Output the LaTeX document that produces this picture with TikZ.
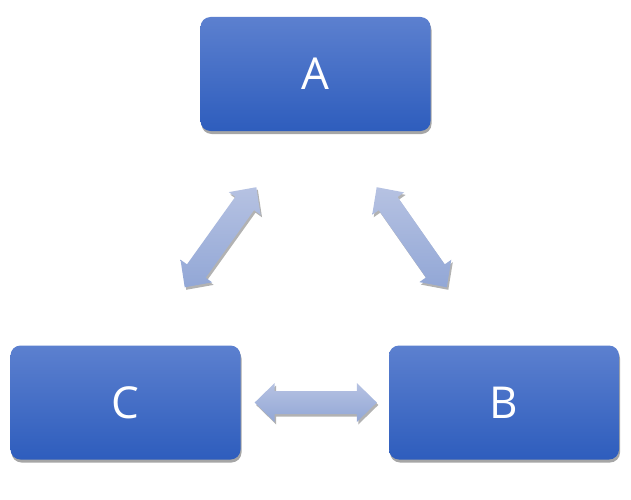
\documentclass[tikz,border=0pt]{standalone}
\usepackage{fontspec}
\setmainfont{Open Sans}
\usetikzlibrary{calc,shadows}
\definecolor{boxtop}{RGB}{92,128,207}
\definecolor{boxbot}{RGB}{46,93,189}
\definecolor{arrtop}{RGB}{182,194,226}
\definecolor{arrbot}{RGB}{146,167,214}
\tikzset{
  box/.style={rectangle, rounded corners=10pt, minimum width=230pt, minimum height=114pt,
    top color=boxtop, bottom color=boxbot, draw=none, text=white,
    font=\fontsize{44}{50}\selectfont,
    drop shadow={shadow xshift=1pt, shadow yshift=-3pt, opacity=0.35, fill=black}},
  blockarr/.style={top color=arrtop, bottom color=arrbot, draw=none,
    drop shadow={shadow xshift=1.5pt, shadow yshift=-2.5pt, opacity=0.3, fill=black}}
}
\newcommand\blockarrow[2]{%
  \path[blockarr] (#1)
    -- ($(#1)!20pt!(#2)!19.5pt!90:(#2)$)
    -- ($(#1)!20pt!(#2)!11.5pt!90:(#2)$)
    -- ($(#2)!20pt!(#1)!11.5pt!-90:(#1)$)
    -- ($(#2)!20pt!(#1)!19.5pt!-90:(#1)$)
    -- (#2)
    -- ($(#2)!20pt!(#1)!19.5pt!90:(#1)$)
    -- ($(#2)!20pt!(#1)!11.5pt!90:(#1)$)
    -- ($(#1)!20pt!(#2)!11.5pt!-90:(#2)$)
    -- ($(#1)!20pt!(#2)!19.5pt!-90:(#2)$)
    -- cycle;}
\begin{document}
\begin{tikzpicture}[x=1pt,y=1pt]
\useasboundingbox (0,0) rectangle (631,499);
\node[box] (A) at (315.5,425) {A};
\node[box] (C) at (125.5,96.5) {C};
\node[box] (B) at (504,96.5) {B};
% connector end points
\coordinate (ac1) at ($(A.south west)+(56,-56)$);
\coordinate (ac2) at ($(C.north east)+(-56,58)$);
\coordinate (ab1) at ($(A.south east)+(-54,-56)$);
\coordinate (ab2) at ($(B.north west)+(58,58)$);
\coordinate (cb1) at ($(C.east)+(14,0)$);
\coordinate (cb2) at ($(B.west)+(-12,0)$);
\blockarrow{ac2}{ac1}
\blockarrow{ab1}{ab2}
\blockarrow{cb1}{cb2}
\end{tikzpicture}
\end{document}
